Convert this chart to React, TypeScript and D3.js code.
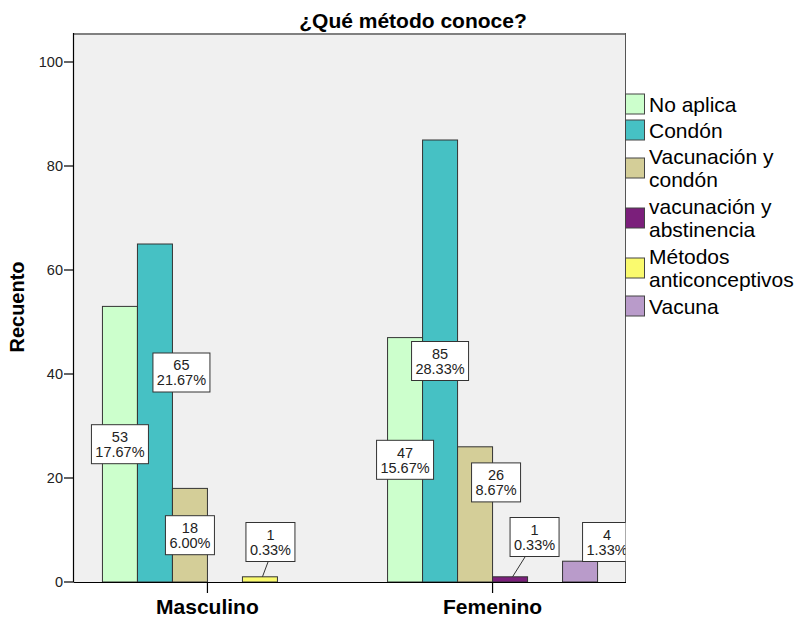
import React from "react";
import * as d3 from "d3";

const title = "¿Qué método conoce?";
const yAxisLabel = "Recuento";
const categories = ["Masculino", "Femenino"];
const seriesNames = [
  "No aplica",
  "Condón",
  "Vacunación y condón",
  "vacunación y abstinencia",
  "Métodos anticonceptivos",
  "Vacuna",
];
const legendLines = [
  ["No aplica"],
  ["Condón"],
  ["Vacunación y", "condón"],
  ["vacunación y", "abstinencia"],
  ["Métodos", "anticonceptivos"],
  ["Vacuna"],
];
const masculinoCounts = [53, 65, 18, 0, 1, 0];
const femeninoCounts = [47, 85, 26, 1, 0, 4];
const totalCount = 300;
const yTicks = [0, 20, 40, 60, 80, 100];
const seriesColors = ["#CCFFCC", "#46C1C4", "#D4CE98", "#7B1F7B", "#FAFA6E", "#B99BCA"];

// label box adjustments (pixels) for labels SPSS moved to avoid overlaps
const labelShift: Record<string, { dx: number; dy: number; leader?: boolean }> = {
  "Masculino|Condón": { dx: 26.5, dy: -40.5 },
  "Femenino|Vacunación y condón": { dx: 21, dy: -32 },
  "Masculino|Métodos anticonceptivos": { dx: 10.5, dy: -37.4, leader: true },
  "Femenino|vacunación y abstinencia": { dx: 24.5, dy: -42.4, leader: true },
  "Femenino|Vacuna": { dx: 27, dy: -29.6 },
};

const W = 797;
const H = 618;
const plotLeft = 74;
const plotRight = 626;
const plotTop = 33;
const plotBottom = 582;
const FONT = '"Liberation Sans", Arial, sans-serif';

let measureCtx: CanvasRenderingContext2D | null = null;
function textWidth(s: string, size: number) {
  if (!measureCtx) measureCtx = document.createElement("canvas").getContext("2d");
  if (!measureCtx) return s.length * size * 0.55;
  measureCtx.font = `${size}px "Liberation Sans", Arial, sans-serif`;
  return measureCtx.measureText(s).width;
}

export default function App() {
  const countsByCat = [masculinoCounts, femeninoCounts];
  const x0 = d3.scalePoint<string>().domain(categories).range([plotLeft, plotRight]).padding(0.468);
  const groupW = 210;
  const x1 = d3.scaleBand<string>().domain(seriesNames).range([-groupW / 2, groupW / 2]).padding(0);
  const y = d3.scaleLinear().domain([0, (plotBottom - plotTop) / 5.2]).range([plotBottom, plotTop]);

  const bars: any[] = [];
  const labels: any[] = [];
  categories.forEach((cat, ci) => {
    countsByCat[ci].forEach((v, si) => {
      if (v <= 0) return;
      const name = seriesNames[si];
      const bx = (x0(cat) as number) + (x1(name) as number);
      const bw = x1.bandwidth();
      bars.push({ key: cat + si, x: bx, w: bw, y: y(v), h: y(0) - y(v), color: seriesColors[si] });
      const shift = labelShift[`${cat}|${name}`] || { dx: 0, dy: 0 };
      const cx = bx + bw / 2 + shift.dx;
      const cy = (y(v) + y(0)) / 2 + shift.dy;
      const l1 = String(v);
      const l2 = ((v / totalCount) * 100).toFixed(2) + "%";
      const tw = Math.max(textWidth(l1, 14.5), textWidth(l2, 14.5));
      const bwid = Math.round(tw + 8);
      const bh = 39;
      labels.push({
        key: "l" + cat + si,
        cx,
        cy,
        bw: bwid,
        bh,
        l1,
        l2,
        leader: shift.leader
          ? { x1: (cx + bx + bw / 2) / 2 + 3, y1: cy + bh / 2, x2: bx + bw / 2 + 2.5, y2: y(v) }
          : null,
      });
    });
  });

  // legend layout
  let cursor = 91;
  const legendItems = legendLines.map((lines, i) => {
    const h = lines.length === 1 ? 26 : 50;
    const c = cursor + h / 2;
    cursor += h;
    return { lines, c, color: seriesColors[i] };
  });

  return (
    <svg
      width={W}
      height={H}
      style={{ position: "absolute", left: 0, top: 0, display: "block", background: "#fff" }}
      fontFamily={FONT}
    >
      <defs>
        <clipPath id="plotClip">
          <rect x={plotLeft} y={plotTop} width={plotRight - plotLeft - 0.5} height={plotBottom - plotTop} />
        </clipPath>
      </defs>
      <rect x={plotLeft} y={plotTop} width={plotRight - plotLeft} height={plotBottom - plotTop} fill="#F0F0F0" />
      {/* frame */}
      <line x1={plotLeft} x2={plotRight} y1={plotTop + 1} y2={plotTop + 1} stroke="#808080" strokeWidth={2} />
      <line x1={plotRight - 0.5} x2={plotRight - 0.5} y1={plotTop} y2={plotBottom} stroke="#555" strokeWidth={1} />

      {/* bars */}
      {bars.map((b) => (
        <rect key={b.key} x={b.x} y={b.y} width={b.w} height={b.h} fill={b.color} stroke="#333" strokeWidth={1} />
      ))}

      {/* axes */}
      <line x1={plotLeft - 0.5} x2={plotLeft - 0.5} y1={plotTop} y2={plotBottom} stroke="#000" strokeWidth={1.2} />
      <line x1={plotLeft} x2={plotRight} y1={plotBottom + 0.5} y2={plotBottom + 0.5} stroke="#000" strokeWidth={1.2} />
      {yTicks.map((t) => (
        <g key={"t" + t}>
          <line x1={plotLeft - 10} x2={plotLeft} y1={y(t)} y2={y(t)} stroke="#000" strokeWidth={1.2} />
          <text x={plotLeft - 11} y={y(t) + 5} textAnchor="end" fontSize={14.5} fill="#222">
            {t}
          </text>
        </g>
      ))}
      {categories.map((c) => (
        <g key={"c" + c}>
          <line x1={x0(c)} x2={x0(c)} y1={plotBottom} y2={plotBottom + 11} stroke="#000" strokeWidth={1.2} />
          <text x={x0(c)} y={614} textAnchor="middle" fontSize={21} fontWeight="bold" fill="#000">
            {c}
          </text>
        </g>
      ))}

      {/* labels */}
      <g clipPath="url(#plotClip)">
        {labels.map((l) => (
          <g key={l.key}>
            {l.leader && (
              <line x1={l.leader.x1} y1={l.leader.y1} x2={l.leader.x2} y2={l.leader.y2} stroke="#333" strokeWidth={1} />
            )}
            <rect
              x={l.cx - l.bw / 2}
              y={l.cy - l.bh / 2}
              width={l.bw}
              height={l.bh}
              fill="#fff"
              stroke="#333"
              strokeWidth={1}
            />
            <text x={l.cx} y={l.cy - 7.5 + 5.2} textAnchor="middle" fontSize={14.5} fill="#222">
              {l.l1}
            </text>
            <text x={l.cx} y={l.cy + 7.5 + 5.2} textAnchor="middle" fontSize={14.5} fill="#222">
              {l.l2}
            </text>
          </g>
        ))}
      </g>

      {/* title */}
      <text x={413} y={28} textAnchor="middle" fontSize={21} fontWeight="bold" fill="#000">
        {title}
      </text>
      {/* y label */}
      <text
        transform={`translate(24,${307}) rotate(-90)`}
        textAnchor="middle"
        fontSize={20}
        fontWeight="bold"
        fill="#000"
      >
        {yAxisLabel}
      </text>

      {/* legend */}
      {legendItems.map((it, i) => (
        <g key={"lg" + i}>
          <rect x={625.5} y={it.c - 10} width={19} height={20} fill={it.color} stroke="#444" strokeWidth={1} />
          {it.lines.length === 1 ? (
            <text x={649} y={it.c + 7.5} fontSize={21} fill="#000">
              {it.lines[0]}
            </text>
          ) : (
            <>
              <text x={649} y={it.c - 4} fontSize={21} fill="#000">
                {it.lines[0]}
              </text>
              <text x={649} y={it.c + 19} fontSize={21} fill="#000">
                {it.lines[1]}
              </text>
            </>
          )}
        </g>
      ))}
    </svg>
  );
}
